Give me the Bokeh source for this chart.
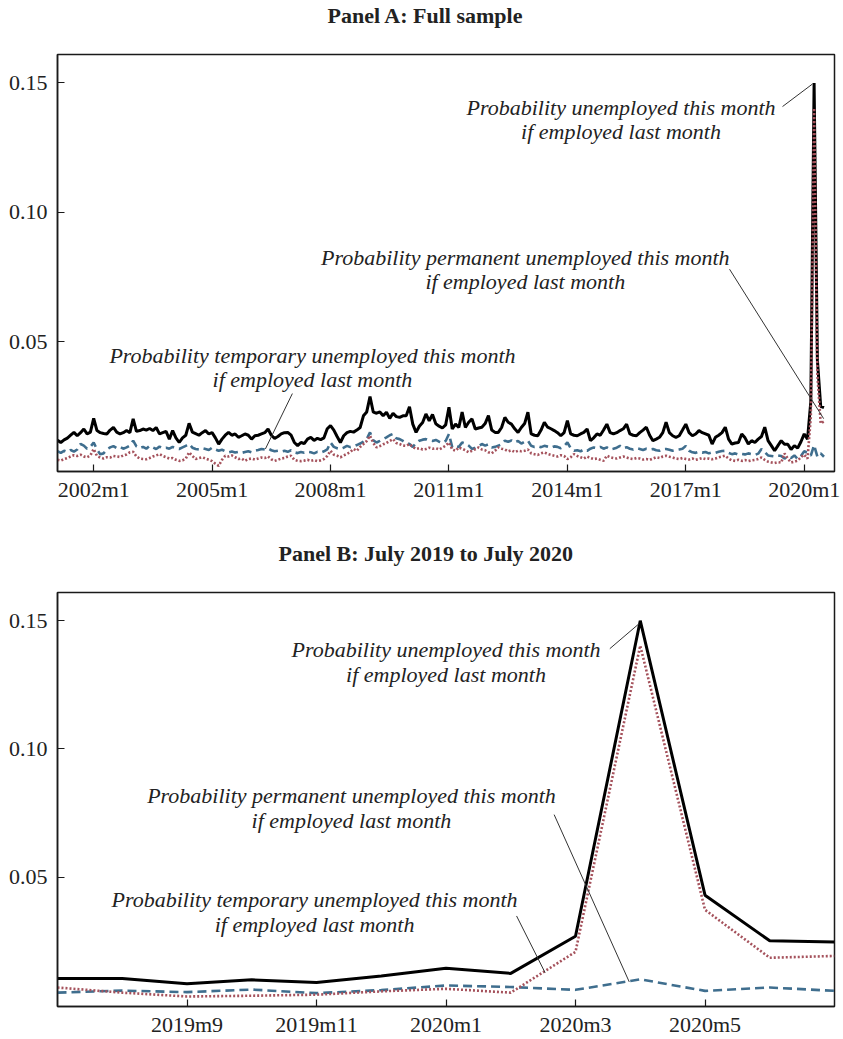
from bokeh.plotting import figure
from bokeh.models import Range1d, FixedTicker, PrintfTickFormatter, Label, Title
from bokeh.layouts import column
from bokeh.embed import file_html
from bokeh.resources import INLINE

# Monthly transition probabilities, 2001m2 .. 2020m7 (month index 0 = 2001m1)
START_INDEX = 1

# Probability unemployed this month if employed last month
total = [
    0.0121, 0.0112, 0.0122, 0.0129, 0.0140, 0.0151, 0.0138, 0.0150, 0.0164, 0.0145, 0.0152,          # 2001 (Feb-Dec)
    0.0205, 0.0158, 0.0150, 0.0147, 0.0145, 0.0160, 0.0170, 0.0152, 0.0145, 0.0150, 0.0158, 0.0150,  # 2002
    0.0203, 0.0155, 0.0158, 0.0164, 0.0160, 0.0166, 0.0158, 0.0170, 0.0145, 0.0150, 0.0155, 0.0125,  # 2003
    0.0158, 0.0130, 0.0112, 0.0130, 0.0140, 0.0186, 0.0152, 0.0146, 0.0140, 0.0150, 0.0158, 0.0145,  # 2004
    0.0150, 0.0130, 0.0106, 0.0125, 0.0140, 0.0151, 0.0140, 0.0145, 0.0132, 0.0138, 0.0145, 0.0140,  # 2005
    0.0125, 0.0138, 0.0140, 0.0145, 0.0150, 0.0164, 0.0140, 0.0128, 0.0135, 0.0145, 0.0150, 0.0151,  # 2006
    0.0140, 0.0112, 0.0100, 0.0112, 0.0108, 0.0125, 0.0132, 0.0120, 0.0128, 0.0123, 0.0130, 0.0165,  # 2007
    0.0177, 0.0160, 0.0135, 0.0112, 0.0138, 0.0150, 0.0155, 0.0152, 0.0160, 0.0170, 0.0215, 0.0230,  # 2008
    0.0289, 0.0229, 0.0225, 0.0230, 0.0215, 0.0229, 0.0205, 0.0225, 0.0212, 0.0209, 0.0215, 0.0215,  # 2009
    0.0250, 0.0183, 0.0151, 0.0175, 0.0189, 0.0222, 0.0196, 0.0220, 0.0184, 0.0175, 0.0168, 0.0180,  # 2010
    0.0248, 0.0164, 0.0183, 0.0170, 0.0229, 0.0170, 0.0190, 0.0203, 0.0164, 0.0168, 0.0171, 0.0185,  # 2011
    0.0216, 0.0160, 0.0151, 0.0151, 0.0170, 0.0209, 0.0190, 0.0183, 0.0165, 0.0151, 0.0170, 0.0185,  # 2012
    0.0229, 0.0145, 0.0140, 0.0138, 0.0160, 0.0190, 0.0171, 0.0165, 0.0158, 0.0150, 0.0138, 0.0150,  # 2013
    0.0196, 0.0145, 0.0140, 0.0138, 0.0145, 0.0151, 0.0164, 0.0119, 0.0130, 0.0145, 0.0140, 0.0160,  # 2014
    0.0183, 0.0150, 0.0145, 0.0150, 0.0158, 0.0165, 0.0183, 0.0145, 0.0140, 0.0138, 0.0150, 0.0160,  # 2015
    0.0171, 0.0140, 0.0119, 0.0125, 0.0132, 0.0150, 0.0190, 0.0150, 0.0138, 0.0132, 0.0138, 0.0160,  # 2016
    0.0183, 0.0150, 0.0138, 0.0145, 0.0158, 0.0150, 0.0145, 0.0140, 0.0106, 0.0132, 0.0140, 0.0150,  # 2017
    0.0171, 0.0125, 0.0106, 0.0110, 0.0112, 0.0145, 0.0130, 0.0106, 0.0119, 0.0112, 0.0125, 0.0135,  # 2018
    0.0171, 0.0119, 0.0100, 0.0080, 0.0100, 0.0119, 0.0105, 0.0105, 0.0085, 0.0100, 0.0090, 0.0115,  # 2019
    0.0145, 0.0125, 0.0270, 0.1500, 0.0430, 0.0252, 0.0247,                                          # 2020 (Jan-Jul)
]

# Probability permanent unemployed this month if employed last month
permanent = [
    0.0078, 0.0072, 0.0080, 0.0075, 0.0083, 0.0077, 0.0085, 0.0106, 0.0100, 0.0088, 0.0095,          # 2001
    0.0112, 0.0085, 0.0067, 0.0070, 0.0085, 0.0093, 0.0098, 0.0090, 0.0095, 0.0088, 0.0093, 0.0100,  # 2002
    0.0119, 0.0097, 0.0090, 0.0095, 0.0088, 0.0099, 0.0093, 0.0087, 0.0096, 0.0090, 0.0092, 0.0088,  # 2003
    0.0095, 0.0090, 0.0087, 0.0093, 0.0099, 0.0106, 0.0092, 0.0087, 0.0085, 0.0090, 0.0087, 0.0083,  # 2004
    0.0092, 0.0085, 0.0080, 0.0084, 0.0078, 0.0074, 0.0077, 0.0073, 0.0076, 0.0072, 0.0075, 0.0078,  # 2005
    0.0074, 0.0080, 0.0083, 0.0087, 0.0085, 0.0089, 0.0082, 0.0078, 0.0080, 0.0077, 0.0080, 0.0076,  # 2006
    0.0082, 0.0074, 0.0071, 0.0075, 0.0072, 0.0076, 0.0074, 0.0070, 0.0076, 0.0073, 0.0078, 0.0085,  # 2007
    0.0112, 0.0095, 0.0090, 0.0087, 0.0092, 0.0099, 0.0094, 0.0097, 0.0102, 0.0108, 0.0115, 0.0125,  # 2008
    0.0151, 0.0120, 0.0112, 0.0118, 0.0125, 0.0132, 0.0140, 0.0145, 0.0128, 0.0125, 0.0118, 0.0110,  # 2009
    0.0106, 0.0095, 0.0110, 0.0119, 0.0123, 0.0125, 0.0120, 0.0118, 0.0122, 0.0115, 0.0110, 0.0118,  # 2010
    0.0145, 0.0093, 0.0098, 0.0095, 0.0112, 0.0108, 0.0100, 0.0087, 0.0092, 0.0098, 0.0106, 0.0100,  # 2011
    0.0105, 0.0093, 0.0095, 0.0100, 0.0105, 0.0119, 0.0115, 0.0120, 0.0112, 0.0118, 0.0108, 0.0115,  # 2012
    0.0119, 0.0099, 0.0095, 0.0098, 0.0094, 0.0099, 0.0096, 0.0092, 0.0097, 0.0095, 0.0090, 0.0098,  # 2013
    0.0112, 0.0090, 0.0080, 0.0082, 0.0078, 0.0085, 0.0080, 0.0088, 0.0093, 0.0090, 0.0095, 0.0088,  # 2014
    0.0093, 0.0085, 0.0088, 0.0092, 0.0099, 0.0090, 0.0094, 0.0088, 0.0085, 0.0090, 0.0087, 0.0083,  # 2015
    0.0088, 0.0085, 0.0087, 0.0082, 0.0080, 0.0086, 0.0087, 0.0084, 0.0080, 0.0083, 0.0085, 0.0088,  # 2016
    0.0099, 0.0080, 0.0074, 0.0072, 0.0076, 0.0073, 0.0075, 0.0070, 0.0074, 0.0072, 0.0076, 0.0079,  # 2017
    0.0080, 0.0072, 0.0067, 0.0070, 0.0065, 0.0068, 0.0066, 0.0070, 0.0067, 0.0064, 0.0069, 0.0087,  # 2018
    0.0075, 0.0062, 0.0060, 0.0058, 0.0062, 0.0060, 0.0050, 0.0058, 0.0052, 0.0062, 0.0048, 0.0060,  # 2019
    0.0078, 0.0072, 0.0061, 0.0102, 0.0057, 0.0070, 0.0057,                                          # 2020
]

# Probability temporary unemployed this month if employed last month
temporary = [
    0.0045, 0.0042, 0.0048, 0.0052, 0.0058, 0.0063, 0.0060, 0.0065, 0.0058, 0.0055, 0.0062,          # 2001
    0.0087, 0.0060, 0.0054, 0.0050, 0.0055, 0.0054, 0.0060, 0.0058, 0.0056, 0.0062, 0.0066, 0.0074,  # 2002
    0.0076, 0.0058, 0.0050, 0.0048, 0.0047, 0.0052, 0.0058, 0.0062, 0.0067, 0.0060, 0.0055, 0.0050,  # 2003
    0.0052, 0.0045, 0.0041, 0.0043, 0.0050, 0.0074, 0.0060, 0.0048, 0.0052, 0.0055, 0.0050, 0.0045,  # 2004
    0.0040, 0.0030, 0.0022, 0.0045, 0.0061, 0.0058, 0.0062, 0.0055, 0.0048, 0.0050, 0.0041, 0.0048,  # 2005
    0.0050, 0.0046, 0.0050, 0.0054, 0.0052, 0.0058, 0.0047, 0.0041, 0.0045, 0.0050, 0.0052, 0.0058,  # 2006
    0.0061, 0.0045, 0.0041, 0.0040, 0.0042, 0.0045, 0.0041, 0.0044, 0.0040, 0.0043, 0.0048, 0.0060,  # 2007
    0.0080, 0.0065, 0.0061, 0.0055, 0.0062, 0.0068, 0.0075, 0.0087, 0.0080, 0.0095, 0.0106, 0.0118,  # 2008
    0.0138, 0.0110, 0.0093, 0.0098, 0.0105, 0.0110, 0.0118, 0.0125, 0.0110, 0.0106, 0.0100, 0.0099,  # 2009
    0.0106, 0.0095, 0.0087, 0.0090, 0.0085, 0.0087, 0.0092, 0.0088, 0.0090, 0.0085, 0.0092, 0.0100,  # 2010
    0.0112, 0.0085, 0.0080, 0.0093, 0.0088, 0.0082, 0.0074, 0.0080, 0.0086, 0.0093, 0.0085, 0.0082,  # 2011
    0.0074, 0.0070, 0.0080, 0.0093, 0.0088, 0.0085, 0.0078, 0.0082, 0.0075, 0.0080, 0.0078, 0.0080,  # 2012
    0.0085, 0.0070, 0.0067, 0.0064, 0.0070, 0.0074, 0.0068, 0.0064, 0.0061, 0.0058, 0.0063, 0.0060,  # 2013
    0.0048, 0.0055, 0.0067, 0.0060, 0.0055, 0.0050, 0.0058, 0.0052, 0.0048, 0.0050, 0.0045, 0.0041,  # 2014
    0.0061, 0.0055, 0.0052, 0.0050, 0.0054, 0.0058, 0.0054, 0.0050, 0.0048, 0.0052, 0.0050, 0.0046,  # 2015
    0.0048, 0.0045, 0.0050, 0.0055, 0.0052, 0.0058, 0.0061, 0.0057, 0.0054, 0.0050, 0.0048, 0.0052,  # 2016
    0.0048, 0.0046, 0.0050, 0.0045, 0.0048, 0.0052, 0.0048, 0.0050, 0.0047, 0.0050, 0.0055, 0.0058,  # 2017
    0.0061, 0.0050, 0.0043, 0.0041, 0.0045, 0.0041, 0.0044, 0.0040, 0.0043, 0.0045, 0.0048, 0.0054,  # 2018
    0.0045, 0.0038, 0.0035, 0.0033, 0.0036, 0.0034, 0.0070, 0.0050, 0.0035, 0.0038, 0.0042, 0.0055,  # 2019
    0.0065, 0.0050, 0.0209, 0.1403, 0.0373, 0.0186, 0.0193,                                          # 2020
]

# Tick positions (month index) for each panel
panel_a_ticks = [12, 48, 84, 120, 156, 192, 228]
panel_b_ticks = [224, 226, 228, 230, 232]
y_ticks = [0.05, 0.10, 0.15]

month_index = list(range(START_INDEX, START_INDEX + len(total)))

SERIF = "Liberation Serif"
INK = "#222222"
RED = "#A5525C"
BLUE = "#3F6E8E"


def month_label(i):
    return f"{2001 + i // 12}m{i % 12 + 1}"


def make_panel(title, title_shift, x_range, y_range, height, border_right, border_bottom, ticks):
    p = figure(width=843, height=height, x_range=x_range, y_range=y_range, title=None,
               output_backend="svg", toolbar_location=None,
               min_border_left=57, min_border_right=border_right,
               min_border_top=54, min_border_bottom=border_bottom,
               background_fill_color="white", border_fill_color="white")
    # blank spacer row between the heading and the frame
    p.add_layout(Title(text=" ", text_font=SERIF, text_font_size="22px", standoff=0), "above")
    p.add_layout(Title(text=title, align="left", offset=title_shift, standoff=0,
                       text_font=SERIF, text_font_style="bold", text_font_size="22px",
                       text_color=INK), "above")
    p.outline_line_color = "#1a1a1a"
    p.outline_line_width = 1.5
    p.outline_line_alpha = 1.0
    p.xgrid.visible = False
    p.ygrid.visible = False
    for ax in (p.xaxis[0], p.yaxis[0]):
        ax.axis_line_color = "#1a1a1a"
        ax.axis_line_width = 1.5
        ax.major_tick_in = 7
        ax.major_tick_out = 0
        ax.major_tick_line_color = "#1a1a1a"
        ax.major_tick_line_width = 1.2
        ax.minor_tick_line_color = None
        ax.major_label_text_font = SERIF
        ax.major_label_text_font_size = "22px"
        ax.major_label_text_color = INK
    p.yaxis.ticker = FixedTicker(ticks=y_ticks)
    p.yaxis.formatter = PrintfTickFormatter(format="%.2f")
    p.yaxis.major_label_standoff = 10
    p.xaxis.ticker = FixedTicker(ticks=ticks)
    p.xaxis.major_label_overrides = {t: month_label(t) for t in ticks}
    p.xaxis.major_label_standoff = 5
    return p


def draw_series(p, xs, tot, perm, temp):
    p.line(xs, tot, line_color="black", line_width=3)
    p.line(xs, perm, line_color=BLUE, line_width=2.6, line_dash="9 5")
    p.line(xs, temp, line_color=RED, line_width=2.6, line_dash="2 2")


def note(p, x, y, gap, first_line):
    for k, txt in enumerate([first_line, "if employed last month"]):
        p.add_layout(Label(x=x, y=y - k * gap, text=txt, text_align="center",
                           text_baseline="middle", text_font=SERIF,
                           text_font_style="italic", text_font_size="22px",
                           text_color=INK))


# Panel A: full sample
pa = make_panel("Panel A: Full sample", 270, Range1d(1, 237.2), Range1d(0, 0.161),
                538, 9, 67, panel_a_ticks)
draw_series(pa, month_index, total, permanent, temporary)
peak = total.index(max(total))
note(pa, 172.3, 0.1406, 0.0093, "Probability unemployed this month")
note(pa, 143.2, 0.0828, 0.0093, "Probability permanent unemployed this month")
note(pa, 78.5, 0.0449, 0.0095, "Probability temporary unemployed this month")
pa.segment(x0=[221.4, 205.3, 72.4],
           y0=[0.1409, 0.0781, 0.0301],
           x1=[month_index[peak] - 0.5, month_index[-1] - 0.1, 64.2],
           y1=[total[peak] - 0.0004, 0.0204, 0.0087],
           line_color="#333333", line_width=1)

# Panel B: July 2019 to July 2020
first_b = month_index.index(222)
pb = make_panel("Panel B: July 2019 to July 2020", 221, Range1d(222, 234), Range1d(-0.0004, 0.161),
                501, 4, 30, panel_b_ticks)
draw_series(pb, month_index[first_b:], total[first_b:], permanent[first_b:], temporary[first_b:])
note(pb, 228.0, 0.1387, 0.0096, "Probability unemployed this month")
note(pb, 226.54, 0.0818, 0.0097, "Probability permanent unemployed this month")
note(pb, 225.97, 0.0415, 0.0101, "Probability temporary unemployed this month")
pb.segment(x0=[230.53, 229.67, 229.09],
           y0=[0.1391, 0.0744, 0.0349],
           x1=[month_index[peak] - 0.02, 230.83, 229.53],
           y1=[total[peak] - 0.0012, 0.0092, 0.0128],
           line_color="#333333", line_width=1)

layout = column(pa, pb, spacing=0)
open("out.html", "w").write(file_html(layout, INLINE))
